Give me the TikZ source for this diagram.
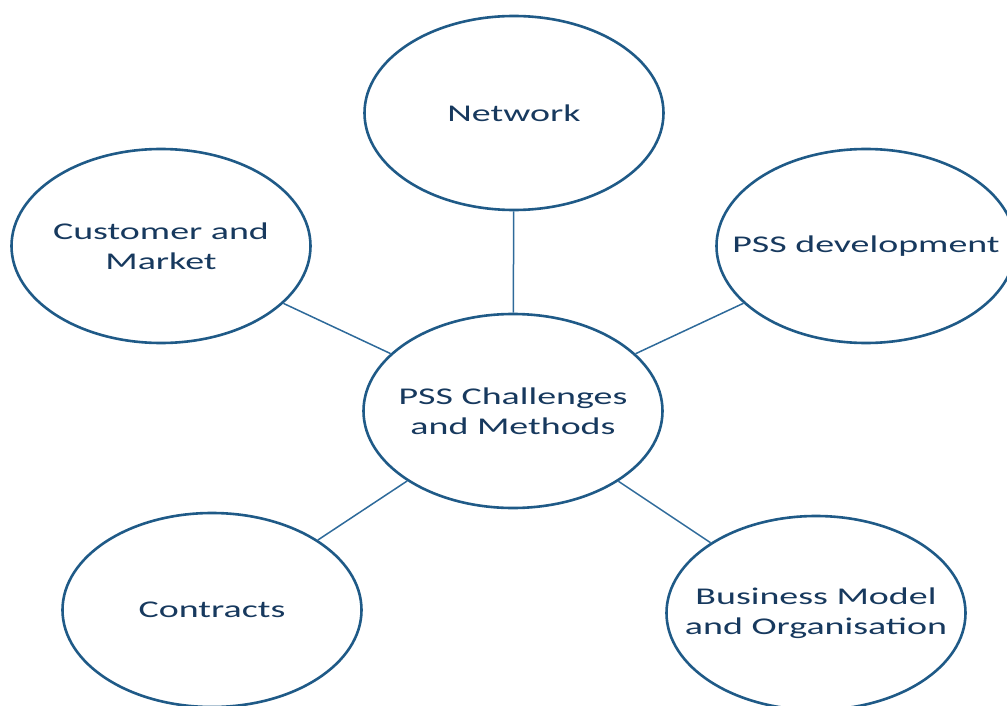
\documentclass[tikz,border=0pt]{standalone}
\usepackage{fontspec}
\newfontfamily\bubblefont{Carlito}[FakeStretch=1.58]
\usepackage{xcolor}
\usepackage{tikz}
\usetikzlibrary{shapes.geometric}
\definecolor{rimblue}{HTML}{1F5A87}
\definecolor{spokeblue}{HTML}{2E6A9A}
\definecolor{inkblue}{HTML}{17395E}
\tikzset{
  bubble/.style={ellipse, draw=rimblue, line width=2.6pt, fill=white,
    minimum width=299pt, minimum height=194pt, inner sep=0pt},
  bubbletext/.style={align=center, inner sep=0pt, text=inkblue,
    font=\bubblefont\fontsize{24}{30}\selectfont},
  spoke/.style={draw=spokeblue, line width=1.5pt}
}

\begin{document}
\begin{tikzpicture}[x=1pt, y=-1pt]
  \useasboundingbox (0,0) rectangle (1007,706);
  \clip (0,0) rectangle (1007,706);

  \node[bubble, label={[bubbletext]center:PSS Challenges\\and Methods}] (hub) at (513,411) {};
  \node[bubble, label={[bubbletext]center:Network}] (network) at (514,113) {};
  \node[bubble, label={[bubbletext]center:Customer and\\Market}] (customer) at (161,246) {};
  \node[bubble, label={[bubbletext]center:PSS development}] (pssdev) at (866,246) {};
  \node[bubble, label={[bubbletext]center:Contracts}] (contracts) at (212,610) {};
  \node[bubble, label={[bubbletext]center:Business Model\\and Organisation}] (business) at (816,613) {};

  % spokes from the hub
  \draw[spoke] (hub) -- (network);
  \draw[spoke] (hub) -- (customer);
  \draw[spoke] (hub) -- (pssdev);
  \draw[spoke] (hub) -- (contracts);
  \draw[spoke] (hub) -- (business);
\end{tikzpicture}
\end{document}
